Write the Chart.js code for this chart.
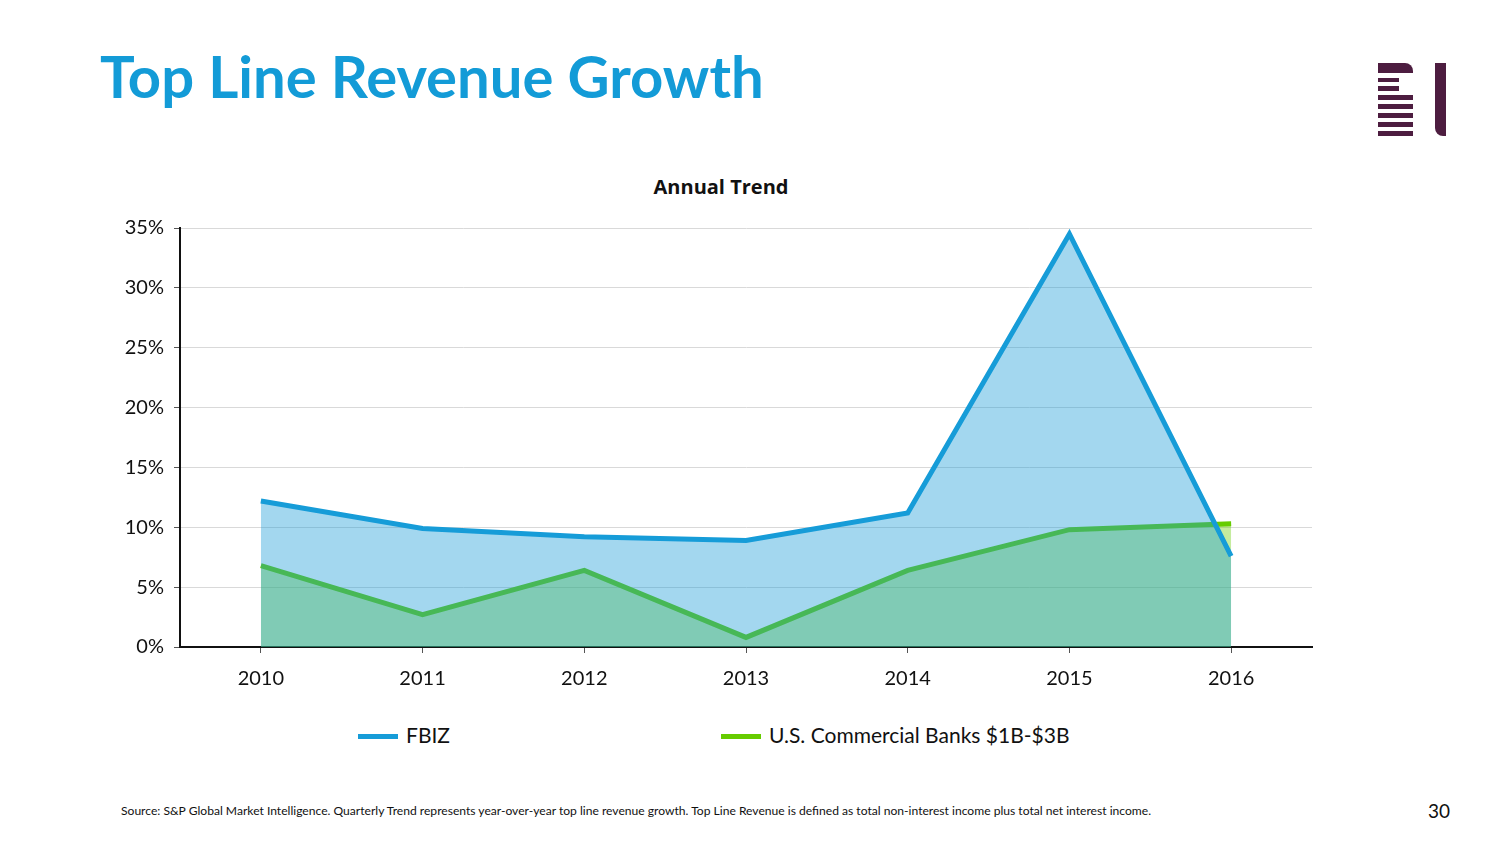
<!DOCTYPE html>
<html lang="en">
<head>
  <meta charset="UTF-8">
  <title>Top Line Revenue Growth</title>
  <script src="https://cdn.jsdelivr.net/npm/chart.js"></script>
  <style>
    body {
      margin: 0;
      width: 1504px;
      height: 846px;
      position: relative;
      background: #fff;
      font-family: Lato, "Open Sans", sans-serif;
      overflow: hidden;
    }
    #title {
      position: absolute;
      left: 100px;
      top: 41px;
      margin: 0;
      font-size: 58px;
      font-weight: bold;
      color: #139bd7;
      white-space: nowrap;
    }
    #chart-title {
      position: absolute;
      left: 521px;
      width: 400px;
      top: 173px;
      text-align: center;
      font-family: "Open Sans", Lato, sans-serif;
      font-size: 20px;
      font-weight: bold;
      color: #111;
    }
    #chart-container {
      position: absolute;
      left: 100px;
      top: 160px;
      width: 1240px;
      height: 540px;
    }
    .legend-item {
      position: absolute;
      top: 722px;
      height: 26px;
      font-size: 21px;
      color: #111;
      line-height: 26px;
      white-space: nowrap;
    }
    .legend-item span {
      display: inline-block;
      width: 40px;
      height: 5px;
      vertical-align: middle;
      margin-right: 8px;
      margin-top: -3px;
    }
    #source {
      position: absolute;
      left: 121px;
      top: 803px;
      font-size: 12.1px;
      color: #111;
      white-space: nowrap;
    }
    #page {
      position: absolute;
      left: 1428px;
      top: 799px;
      font-size: 19px;
      color: #111;
    }
    .logo div {
      position: absolute;
      background: #4d1d40;
    }
  </style>
</head>
<body>
<h1 id="title">Top Line Revenue Growth</h1>

<div class="logo">
  <div style="left:1378px;top:63px;width:35px;height:10px;border-top-right-radius:8px;"></div>
  <div style="left:1378px;top:78px;width:21px;height:4px;"></div>
  <div style="left:1378px;top:86px;width:21px;height:5px;"></div>
  <div style="left:1378px;top:95px;width:35px;height:5px;"></div>
  <div style="left:1378px;top:104px;width:35px;height:5px;"></div>
  <div style="left:1378px;top:113px;width:35px;height:5px;"></div>
  <div style="left:1378px;top:122px;width:35px;height:5px;"></div>
  <div style="left:1378px;top:131px;width:35px;height:5px;"></div>
  <div style="left:1435px;top:63px;width:11px;height:73px;border-bottom-left-radius:8px;"></div>
</div>

<div id="chart-title">Annual Trend</div>

<div id="chart-container">
  <canvas id="chart"></canvas>
</div>

<div id="legend"></div>

<div id="source">Source: S&amp;P Global Market Intelligence. Quarterly Trend represents year-over-year top line revenue growth. Top Line Revenue is defined as total non-interest income plus total net interest income.</div>
<div id="page">30</div>

<script>
const years = ["2010", "2011", "2012", "2013", "2014", "2015", "2016"];
const fbizGrowth = [12.2, 9.9, 9.2, 8.9, 11.2, 34.5, 7.6];
const peerGrowth = [6.8, 2.7, 6.4, 0.8, 6.4, 9.8, 10.3];
const seriesNames = ["FBIZ", "U.S. Commercial Banks $1B-$3B"];
const yTicks = [0, 5, 10, 15, 20, 25, 30, 35];

const blue = "rgb(22,156,216)";
const green = "rgb(102,204,0)";

const datasets = [
  {
    label: seriesNames[0],
    data: fbizGrowth,
    borderColor: blue,
    backgroundColor: "rgba(26,156,216,0.4)",
    borderWidth: 5,
    fill: "origin",
    pointRadius: 0,
    tension: 0
  },
  {
    label: seriesNames[1],
    data: peerGrowth,
    borderColor: green,
    backgroundColor: "rgba(102,204,0,0.38)",
    borderWidth: 5,
    fill: "origin",
    pointRadius: 0,
    tension: 0
  }
];

// legend below the chart
const legendPos = [358, 721];
const legend = document.getElementById("legend");
datasets.forEach((ds, i) => {
  const item = document.createElement("div");
  item.className = "legend-item";
  item.style.left = legendPos[i] + "px";
  const swatch = document.createElement("span");
  swatch.style.background = ds.borderColor;
  item.append(swatch, ds.label);
  legend.append(item);
});

const tickFont = { family: "Lato, 'Open Sans', sans-serif", size: 20 };

new Chart(document.getElementById("chart"), {
  type: "line",
  data: { labels: years, datasets },
  options: {
    responsive: true,
    maintainAspectRatio: false,
    animation: false,
    layout: { padding: { top: 68, right: 28, left: 0, bottom: 0 } },
    plugins: {
      legend: { display: false },
      title: { display: false },
      tooltip: { enabled: false }
    },
    scales: {
      x: {
        offset: true,
        grid: { display: true, drawOnChartArea: false, tickLength: 6, color: "#555", offset: false },
        border: { color: "#111", width: 2 },
        ticks: { font: tickFont, color: "#111", padding: 14 },
        afterFit: scale => { scale.height = 53; }
      },
      y: {
        min: 0,
        max: 35,
        afterBuildTicks: scale => { scale.ticks = yTicks.map(v => ({ value: v })); },
        grid: { color: "#d9d9d9", lineWidth: 1, tickLength: 6, tickColor: "#555" },
        border: { color: "#111", width: 2 },
        ticks: { font: tickFont, color: "#111", padding: 10, callback: v => v + "%" },
        afterFit: scale => { scale.width = 80; }
      }
    }
  }
});
</script>
</body>
</html>
